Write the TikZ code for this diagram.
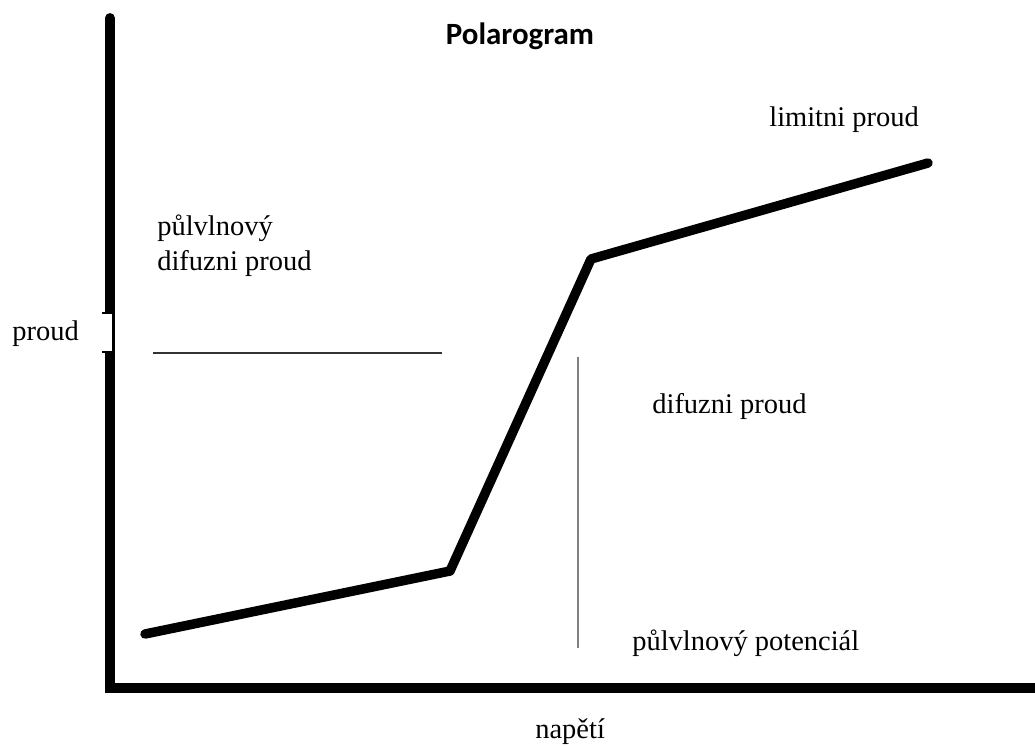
\documentclass[tikz,border=0pt]{standalone}
\usepackage{fontspec}
\setmainfont{Liberation Serif}
\newfontfamily\titlefont{Carlito}
\usetikzlibrary{positioning}

\tikzset{
  axisline/.style={line width=5.6pt, line cap=round},
  curveline/.style={line width=5.4pt, line cap=round, line join=round},
  label/.style={inner sep=0pt, anchor=base west, font=\fontsize{16.2}{20}\selectfont},
}

\begin{document}
\begin{tikzpicture}[x=0.02cm, y=-0.02cm]
\useasboundingbox (0,0) rectangle (1035,745);

% axes
\coordinate (origin) at (110,688);
\coordinate (ytop) at (110,18);
\coordinate (xend) at (1040,688);
\draw[axisline] (ytop) -- (origin) -- (xend);

% gap in the axis behind the label
\fill[white] (103,313) rectangle (111.5,352);
\draw[line width=1.4pt] (102,313) -- (113.5,313) -- (113.5,352) -- (102,352);

% polarogram curve
\coordinate (p0) at (145,634);
\coordinate (p1) at (450,571);
\coordinate (p2) at (591,259);
\coordinate (p3) at (928,163);
\draw[curveline] (p0) -- (p1) -- (p2) -- (p3);

% half-wave marks
\coordinate (h0) at (153,353);
\coordinate (h1) at (442,353);
\draw[line width=1.2pt, black!80] (h0) -- (h1);
\coordinate (v0) at (578,357);
\coordinate (v1) at (578,648);
\draw[line width=1.6pt, black!50] (v0) -- (v1);

% texts
\node (title) at (520,36) {\titlefont\bfseries\fontsize{17.6}{20}\selectfont Polarogram};
\node[label] (yname) at (12,340) {proud};
\node[label] (xname) at (535,738) {napětí};
\node[label] (halfdif1) at (157,235) {půlvlnový};
\node[label] (halfdif2) at (157,270) {difuzni proud};
\node[label] (limit) at (769,126) {limitni proud};
\node[label] (difuz) at (652,413) {difuzni proud};
\node[label] (halfpot) at (632,650) {půlvlnový potenciál};

\end{tikzpicture}
\end{document}
